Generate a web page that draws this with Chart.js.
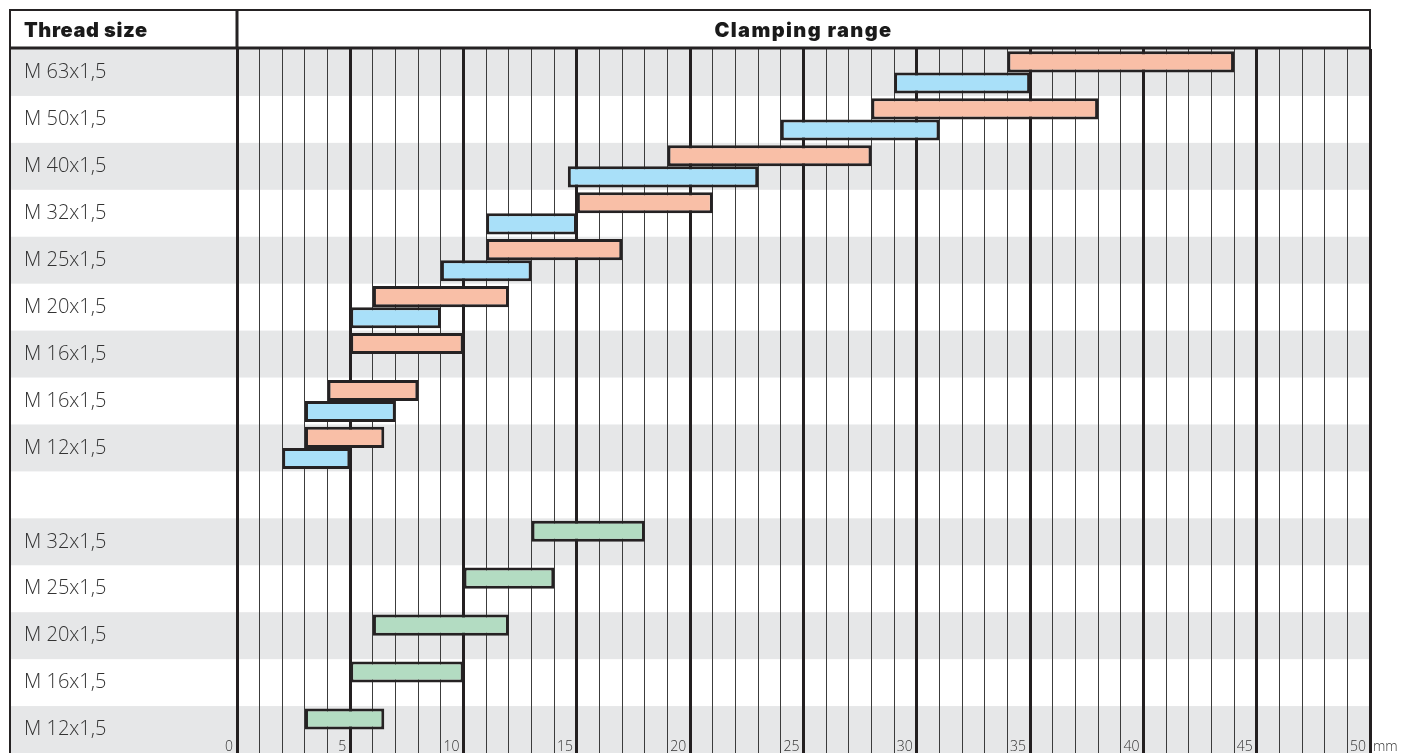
<!DOCTYPE html>
<html>
<head>
<meta charset="utf-8">
<title>Clamping range</title>
<script src="https://cdn.jsdelivr.net/npm/chart.js@4.4.0/dist/chart.umd.min.js"></script>
<style>
  html, body { margin: 0; padding: 0; background: #fff; }
  #wrap { width: 1414px; height: 753px; }
</style>
</head>
<body>
<div id="wrap"><canvas id="clampChart" width="1414" height="753"></canvas></div>
<script>
// rows, top to bottom
const threadSizes = ['M 63x1,5', 'M 50x1,5', 'M 40x1,5', 'M 32x1,5', 'M 25x1,5', 'M 20x1,5', 'M 16x1,5',
    'M 16x1,5', 'M 12x1,5', '', 'M 32x1,5', 'M 25x1,5', 'M 20x1,5', 'M 16x1,5', 'M 12x1,5'];

// clamping ranges in mm, [from, to]
const rangeSalmon = [[34, 44], [28, 38], [19, 28], [15, 21], [11, 17], [6, 12], [5, 10], [4, 8], [3, 6.5],
    null, null, null, null, null, null];
const rangeBlue = [[29, 35], [24, 31], [14.6, 23], [11, 15], [9, 13], [5, 9], null, [3, 7], [2, 5],
    null, null, null, null, null, null];
const rangeGreen = [null, null, null, null, null, null, null, null, null,
    null, [13, 18], [10, 14], [6, 12], [5, 10], [3, 6.5]];

const tickLabels = [0, 5, 10, 15, 20, 25, 30, 35, 40, 45, 50];
const axisUnit = 'mm';
const headerLeft = 'Thread size';
const headerRight = 'Clamping range';

const LINE = '#252223';
const BAND = '#e6e7e8';

const tablePlugin = {
    id: 'tableFrame',
    beforeDraw(chart) {
        const { ctx, chartArea, scales } = chart;
        const rowH = (chartArea.bottom - chartArea.top) / threadSizes.length;
        ctx.save();
        ctx.fillStyle = BAND;
        threadSizes.forEach((_, i) => {
            if (i % 2 === 0) {
                const yc = scales.y.getPixelForValue(i);
                ctx.fillRect(9, yc - rowH / 2, chartArea.right - 9, rowH);
            }
        });
        ctx.restore();
    },
    afterDraw(chart) {
        const { ctx, chartArea, scales } = chart;
        ctx.save();
        ctx.strokeStyle = LINE;
        // header box
        ctx.lineWidth = 2;
        ctx.beginPath();
        ctx.moveTo(9, 10); ctx.lineTo(chartArea.right + 1, 10);
        ctx.moveTo(10, 9); ctx.lineTo(10, chart.height);
        ctx.moveTo(chartArea.right, 9); ctx.lineTo(chartArea.right, chartArea.top);
        ctx.stroke();
        ctx.lineWidth = 3;
        ctx.beginPath();
        ctx.moveTo(9, chartArea.top - 1); ctx.lineTo(chartArea.right + 1, chartArea.top - 1);
        ctx.moveTo(chartArea.left, 9); ctx.lineTo(chartArea.left, chartArea.top);
        ctx.stroke();

        ctx.fillStyle = '#1a1a1a';
        ctx.font = "900 20px Inter, Roboto, sans-serif";
        ctx.letterSpacing = '0.6px';
        ctx.textBaseline = 'alphabetic';
        ctx.textAlign = 'left';
        ctx.fillText(headerLeft, 24, 37);
        ctx.textAlign = 'center';
        ctx.letterSpacing = '1.4px';
        ctx.fillText(headerRight, (chartArea.left + chartArea.right) / 2, 37);
        ctx.letterSpacing = '0px';

        // unit after the last tick
        ctx.fillStyle = '#333';
        ctx.font = "300 14px 'Open Sans', sans-serif";
        ctx.textAlign = 'left';
        ctx.textBaseline = 'middle';
        ctx.fillText(axisUnit, scales.x.getPixelForValue(50) + 3, chartArea.bottom - 6);
        ctx.restore();
    }
};

const barStyle = {
    borderColor: LINE,
    borderWidth: 3,
    borderSkipped: false,
    categoryPercentage: 0.9,
    barPercentage: 1.0
};

new Chart(document.getElementById('clampChart'), {
    type: 'bar',
    data: {
        labels: threadSizes,
        datasets: [
            Object.assign({ label: 'salmon', data: rangeSalmon, backgroundColor: '#f9bfa7', stack: 'top' }, barStyle),
            Object.assign({ label: 'blue', data: rangeBlue, backgroundColor: '#a9e0f9', stack: 'bottom' }, barStyle),
            Object.assign({ label: 'green', data: rangeGreen, backgroundColor: '#b3dcc2', stack: 'top' }, barStyle)
        ]
    },
    options: {
        indexAxis: 'y',
        responsive: false,
        animation: false,
        layout: { padding: { top: 49, left: 24, right: 44, bottom: 0 } },
        plugins: {
            legend: { display: false },
            tooltip: { enabled: false }
        },
        scales: {
            x: {
                type: 'linear',
                min: 0,
                max: 50,
                stacked: false,
                border: { display: false },
                grid: {
                    drawTicks: false,
                    color: c => (c.tick && c.tick.value % 5 === 0) ? '#231f20' : '#3c3c3c',
                    lineWidth: c => (c.tick && c.tick.value % 5 === 0) ? 3 : 1
                },
                ticks: {
                    stepSize: 1,
                    autoSkip: false,
                    maxRotation: 0,
                    mirror: true,
                    padding: 0,
                    align: 'end',
                    labelOffset: -4,
                    color: '#333',
                    font: { family: "'Open Sans', sans-serif", size: 14, weight: '300', lineHeight: 0.9 },
                    callback: v => tickLabels.includes(v) ? String(v) : ''
                },
                afterFit(scale) {
                    scale.height = 0;
                    scale.paddingLeft = 0;
                    scale.paddingRight = 0;
                }
            },
            y: {
                offset: true,
                grid: { display: false },
                border: { display: false },
                ticks: {
                    crossAlign: 'far',
                    padding: 0,
                    color: '#333',
                    font: { family: "'Open Sans', sans-serif", size: 20, weight: '300' }
                },
                afterFit(scale) {
                    scale.width = 213;
                    scale.paddingTop = 0;
                    scale.paddingBottom = 0;
                }
            }
        }
    },
    plugins: [tablePlugin]
});
</script>
</body>
</html>
